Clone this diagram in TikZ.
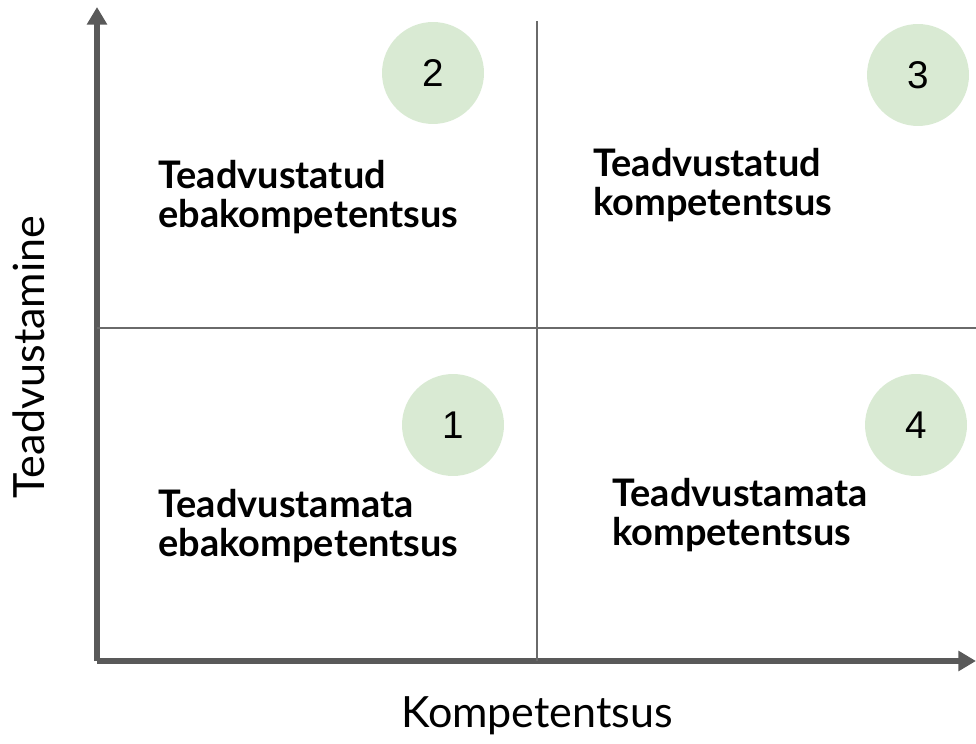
\documentclass[tikz,border=0pt]{standalone}
\usepackage{fontspec}
\setmainfont{Lato}
\newfontfamily\digitfont{Liberation Sans}
\usetikzlibrary{positioning,arrows.meta}
\definecolor{axisgray}{HTML}{595959}
\definecolor{linegray}{HTML}{6A6A6A}
\definecolor{stagegreen}{HTML}{D9EAD3}

\begin{document}
\begin{tikzpicture}[x=0.02cm,y=-0.02cm]

\tikzset{
	axis/.style={
		draw=axisgray,
		line width=3.4pt,
		-{Triangle[length=10pt,width=11pt]}
	}
}

\tikzset{
	divider/.style={
		draw=linegray,
		line width=1.1pt
	}
}

\tikzset{
	stage/.style={
		circle,
		fill=stagegreen,
		minimum size=2.04cm,
		inner sep=0pt,
		font=\digitfont\fontsize{22}{22}\selectfont
	}
}

\tikzset{
	quadrant/.style={
		anchor=base west,
		align=left,
		inner sep=0pt,
		font=\fontsize{21.6}{22}\selectfont\bfseries
	}
}

\tikzset{
	axislabel/.style={
		inner sep=0pt,
		font=\fontsize{24.5}{24.5}\selectfont
	}
}

\useasboundingbox (0,0) rectangle (976,743);

% axes
\coordinate (origin) at (97,661);
\coordinate (yend) at (97,7);
\coordinate (xend) at (976,661);
\draw[axis] (origin) -- (yend);
\draw[axis] (origin) -- (xend);

% quadrant lines
\coordinate (vtop) at (537,21);
\coordinate (vbottom) at (537,661);
\coordinate (hleft) at (97,328);
\coordinate (hright) at (976,328);
\draw[divider] (vtop) -- (vbottom);
\draw[divider] (hleft) -- (hright);

% stages
\node[stage] (stage1) at (453,425) {1};
\node[stage] (stage2) at (433,73) {2};
\node[stage] (stage3) at (918,75) {3};
\node[stage] (stage4) at (916,425) {4};

% quadrant texts (anchored at the last line)
\node[quadrant] (unconsciousinc) at (158,556) {Teadvustamata\\ebakompetentsus};
\node[quadrant] (consciousinc) at (158,227) {Teadvustatud\\ebakompetentsus};
\node[quadrant] (consciouscomp) at (593,215) {Teadvustatud\\kompetentsus};
\node[quadrant] (unconsciouscomp) at (612,545) {Teadvustamata\\kompetentsus};

% axis labels
\node[axislabel, anchor=base] (xlabel) at (537,727) {Kompetentsus};
\node[axislabel, anchor=base, rotate=90] (ylabel) at (44,357) {Teadvustamine};

\end{tikzpicture}
\end{document}
